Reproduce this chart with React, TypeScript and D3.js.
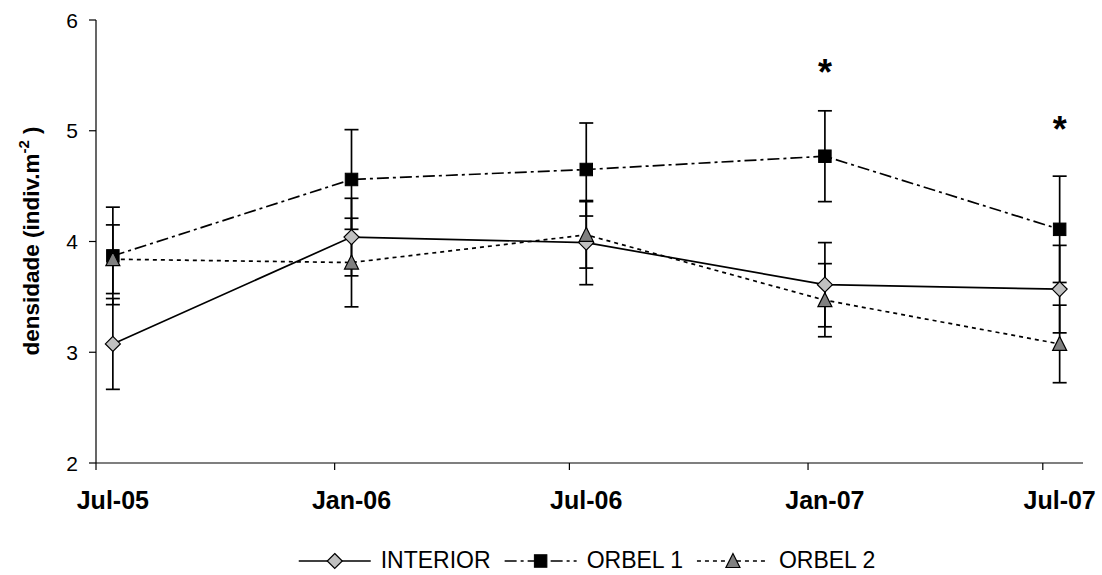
import React, { useEffect, useRef } from "react";
import * as d3 from "d3";

// Sampling campaigns (labels) and the dates the samples were taken
const categories = ["Jul-05", "Jan-06", "Jul-06", "Jan-07", "Jul-07"];
const sampleDates = ["2005-07-14", "2006-01-14", "2006-07-14", "2007-01-14", "2007-07-14"];
// Axis tick positions (first day of each campaign month)
const tickDates = ["2005-07-01", "2006-01-01", "2006-07-01", "2007-01-01", "2007-07-01"];

// Mean density (indiv.m-2) and its error for each zone
const interior = [3.075, 4.04, 3.99, 3.61, 3.57];
const interiorErr = [0.41, 0.35, 0.38, 0.38, 0.395];
const orbel1 = [3.87, 4.56, 4.65, 4.77, 4.11];
const orbel1Err = [0.44, 0.45, 0.42, 0.41, 0.48];
const orbel2 = [3.84, 3.81, 4.06, 3.47, 3.075];
const orbel2Err = [0.31, 0.4, 0.3, 0.33, 0.35];

// Significant differences (campaign index, height of the asterisk)
const sigIndex = [3, 4];
const sigLevel = [5.59, 5.08];

const yTicks = [2, 3, 4, 5, 6];
const seriesNames = ["INTERIOR", "ORBEL 1", "ORBEL 2"];

const FONT = "'Liberation Sans', Arial, Helvetica, sans-serif";
const W = 1102;
const H = 575;

type Marker = "diamond" | "square" | "triangle";

export default function App() {
  const ref = useRef<SVGSVGElement | null>(null);

  useEffect(() => {
    const svg = d3.select(ref.current);
    svg.selectAll("*").remove();

    const parse = d3.timeParse("%Y-%m-%d");
    const dates = sampleDates.map((s) => parse(s) as Date);
    const ticks = tickDates.map((s) => parse(s) as Date);

    const x = d3
      .scaleTime()
      .domain([new Date(2005, 6, 1), new Date(2007, 7, 1)])
      .range([96, 1083]);
    const y = d3.scaleLinear().domain([2, 6]).range([463, 20]);

    const series = [
      { name: seriesNames[0], values: interior, err: interiorErr, marker: "diamond" as Marker, fill: "#c0c0c0", dash: null as string | null },
      { name: seriesNames[1], values: orbel1, err: orbel1Err, marker: "square" as Marker, fill: "#000000", dash: "12,4,3,4" },
      { name: seriesNames[2], values: orbel2, err: orbel2Err, marker: "triangle" as Marker, fill: "#808080", dash: "4,4" },
    ];

    const drawMarker = (g: any, kind: Marker, cx: number, cy: number, fill: string) => {
      if (kind === "diamond") {
        const r = 7.5;
        g.append("path")
          .attr("d", `M${cx},${cy - r}L${cx + r},${cy}L${cx},${cy + r}L${cx - r},${cy}Z`)
          .attr("fill", fill)
          .attr("stroke", "#000")
          .attr("stroke-width", 1.2);
      } else if (kind === "square") {
        const s = 12.5;
        g.append("rect")
          .attr("x", cx - s / 2)
          .attr("y", cy - s / 2)
          .attr("width", s)
          .attr("height", s)
          .attr("fill", fill)
          .attr("stroke", "#000")
          .attr("stroke-width", 1);
      } else {
        const hw = 7;
        const h = 13;
        g.append("path")
          .attr("d", `M${cx},${cy - h / 2 - 1}L${cx + hw},${cy + h / 2}L${cx - hw},${cy + h / 2}Z`)
          .attr("fill", fill)
          .attr("stroke", "#000")
          .attr("stroke-width", 1.2);
      }
    };

    // Axes
    const axes = svg.append("g");
    axes
      .append("line")
      .attr("x1", x.range()[0])
      .attr("x2", x.range()[0])
      .attr("y1", y(6))
      .attr("y2", y(2))
      .attr("stroke", "#000")
      .attr("stroke-width", 1.2);
    axes
      .append("line")
      .attr("x1", x.range()[0])
      .attr("x2", x.range()[1])
      .attr("y1", y(2))
      .attr("y2", y(2))
      .attr("stroke", "#000")
      .attr("stroke-width", 1.2);

    yTicks.forEach((t) => {
      axes
        .append("line")
        .attr("x1", x.range()[0] - 7)
        .attr("x2", x.range()[0])
        .attr("y1", y(t))
        .attr("y2", y(t))
        .attr("stroke", "#000")
        .attr("stroke-width", 1.2);
      axes
        .append("text")
        .attr("x", 78)
        .attr("y", y(t))
        .attr("dy", "0.36em")
        .attr("text-anchor", "end")
        .attr("font-family", FONT)
        .attr("font-size", 21)
        .text(String(t));
    });

    ticks.forEach((t) => {
      axes
        .append("line")
        .attr("x1", x(t))
        .attr("x2", x(t))
        .attr("y1", y(2))
        .attr("y2", y(2) + 7)
        .attr("stroke", "#000")
        .attr("stroke-width", 1.2);
    });

    dates.forEach((d, i) => {
      axes
        .append("text")
        .attr("x", x(d))
        .attr("y", 509)
        .attr("text-anchor", "middle")
        .attr("font-family", FONT)
        .attr("font-weight", "bold")
        .attr("font-size", 25)
        .text(categories[i]);
    });

    // Y axis title
    const title = axes
      .append("text")
      .attr("transform", "translate(39,241) rotate(-90)")
      .attr("text-anchor", "middle")
      .attr("font-family", FONT)
      .attr("font-weight", "bold")
      .attr("font-size", 22.5);
    title.append("tspan").text("densidade (indiv.m");
    title.append("tspan").attr("dy", -10).attr("font-size", 15).text("-2");
    title.append("tspan").attr("dy", 10).text(" )");

    // Lines
    const plot = svg.append("g");
    series.forEach((s) => {
      const line = d3
        .line<number>()
        .x((_, i) => x(dates[i]))
        .y((v) => y(v));
      plot
        .append("path")
        .attr("d", line(s.values) as string)
        .attr("fill", "none")
        .attr("stroke", "#000")
        .attr("stroke-width", 1.7)
        .attr("stroke-dasharray", s.dash);
    });

    // Error bars
    series.forEach((s) => {
      s.values.forEach((v, i) => {
        const cx = x(dates[i]);
        const top = y(v + s.err[i]);
        const bot = y(v - s.err[i]);
        plot
          .append("line")
          .attr("x1", cx)
          .attr("x2", cx)
          .attr("y1", top)
          .attr("y2", bot)
          .attr("stroke", "#000")
          .attr("stroke-width", 1.7);
        [top, bot].forEach((yy) => {
          plot
            .append("line")
            .attr("x1", cx - 7)
            .attr("x2", cx + 7)
            .attr("y1", yy)
            .attr("y2", yy)
            .attr("stroke", "#000")
            .attr("stroke-width", 1.7);
        });
      });
    });

    // Markers
    series.forEach((s) => {
      s.values.forEach((v, i) => drawMarker(plot, s.marker, x(dates[i]), y(v), s.fill));
    });

    // Significance asterisks
    sigIndex.forEach((idx, k) => {
      plot
        .append("text")
        .attr("x", x(dates[idx]))
        .attr("y", y(sigLevel[k]) + 20)
        .attr("text-anchor", "middle")
        .attr("font-family", FONT)
        .attr("font-weight", "bold")
        .attr("font-size", 36)
        .text("*");
    });

    // Legend
    const legend = svg.append("g");
    const ly = 561;
    const symW = 72;
    const gapSymText = 10;
    const gapItems = 14;
    const items = series.map((s) => {
      const t = legend
        .append("text")
        .attr("y", ly + 7)
        .attr("font-family", FONT)
        .attr("font-size", 23)
        .text(s.name);
      const w = (t.node() as SVGTextElement).getComputedTextLength();
      return { s, t, w };
    });
    const total = items.reduce((a, it) => a + symW + gapSymText + it.w, 0) + gapItems * (items.length - 1);
    let cx = 587 - total / 2;
    items.forEach((it) => {
      legend
        .append("line")
        .attr("x1", cx)
        .attr("x2", cx + symW)
        .attr("y1", ly)
        .attr("y2", ly)
        .attr("stroke", "#000")
        .attr("stroke-width", 1.7)
        .attr("stroke-dasharray", it.s.dash);
      drawMarker(legend, it.s.marker, cx + symW / 2, ly, it.s.fill);
      it.t.attr("x", cx + symW + gapSymText);
      cx += symW + gapSymText + it.w + gapItems;
    });
  }, []);

  return (
    <svg
      ref={ref}
      width={W}
      height={H}
      style={{ position: "absolute", left: 0, top: 0, background: "#fff" }}
    />
  );
}
